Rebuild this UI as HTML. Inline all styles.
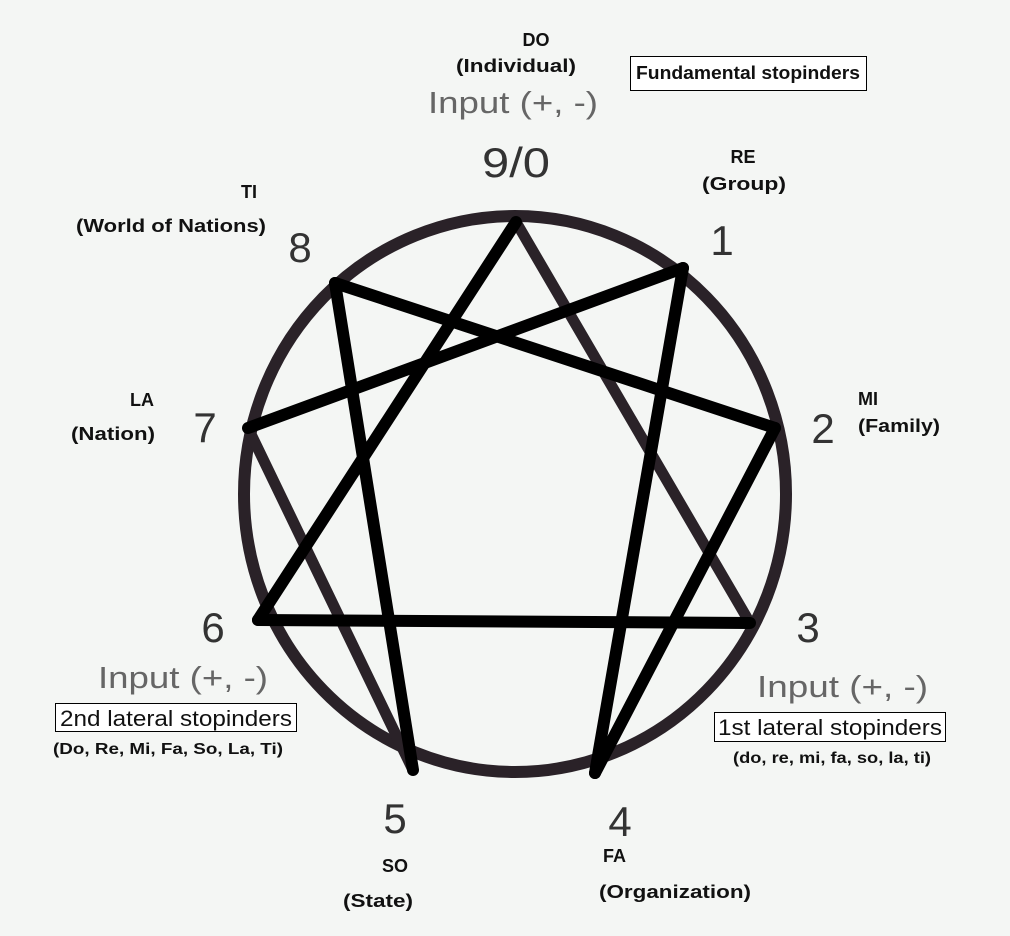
<!DOCTYPE html>
<html><head><meta charset="utf-8"><style>
html,body{margin:0;padding:0;background:#f4f6f4;}
svg{display:block;}
.b{font-family:"Liberation Sans",sans-serif;font-weight:bold;font-size:18px;fill:#111;}
.n{font-family:"Liberation Sans",sans-serif;font-size:42px;fill:#333;}
.i{font-family:"Liberation Sans",sans-serif;font-size:31px;fill:#666;}
.l{font-family:"Liberation Sans",sans-serif;font-size:22px;fill:#111;}
</style></head><body>
<svg width="1010" height="936" viewBox="0 0 1010 936">
<rect width="1010" height="936" fill="#f4f6f4"/>
<ellipse cx="515" cy="494" rx="271" ry="278" fill="none" stroke="#2a2228" stroke-width="12"/>
<g stroke-linecap="round" fill="none">
<line x1="516" y1="222" x2="750" y2="623" stroke="#2a2228" stroke-width="11"/>
<line x1="248" y1="428" x2="413" y2="770" stroke="#2a2228" stroke-width="11"/>
<line x1="516" y1="222" x2="258" y2="620" stroke="#000" stroke-width="12"/>
<line x1="258" y1="620" x2="750" y2="623" stroke="#000" stroke-width="12"/>
<line x1="683" y1="268" x2="595" y2="773" stroke="#000" stroke-width="12"/>
<line x1="595" y1="773" x2="775" y2="428" stroke="#000" stroke-width="12"/>
<line x1="775" y1="428" x2="335" y2="283" stroke="#000" stroke-width="12"/>
<line x1="335" y1="283" x2="413" y2="770" stroke="#000" stroke-width="12"/>
<line x1="248" y1="428" x2="683" y2="268" stroke="#000" stroke-width="12"/>
</g>
<text class="b" x="536" y="46" text-anchor="middle">DO</text>
<text class="b" x="516" y="72" text-anchor="middle" textLength="120" lengthAdjust="spacingAndGlyphs">(Individual)</text>
<text class="i" x="428" y="113" textLength="170" lengthAdjust="spacingAndGlyphs">Input (+, -)</text>
<text class="n" x="516" y="177" text-anchor="middle" textLength="68" lengthAdjust="spacingAndGlyphs">9/0</text>
<rect x="630.5" y="56.5" width="236" height="34" fill="#fff" stroke="#000" stroke-width="1"/>
<text class="b" x="636" y="79" textLength="224" lengthAdjust="spacingAndGlyphs">Fundamental stopinders</text>
<text class="b" x="743" y="163" text-anchor="middle">RE</text>
<text class="b" x="744" y="190" text-anchor="middle" textLength="84" lengthAdjust="spacingAndGlyphs">(Group)</text>
<text class="n" x="722" y="255" text-anchor="middle">1</text>
<text class="b" x="257" y="198" text-anchor="end">TI</text>
<text class="b" x="266" y="232" text-anchor="end" textLength="190" lengthAdjust="spacingAndGlyphs">(World of Nations)</text>
<text class="n" x="300" y="262" text-anchor="middle">8</text>
<text class="b" x="858" y="405">MI</text>
<text class="b" x="858" y="432" textLength="82" lengthAdjust="spacingAndGlyphs">(Family)</text>
<text class="n" x="823" y="443" text-anchor="middle">2</text>
<text class="b" x="154" y="406" text-anchor="end">LA</text>
<text class="b" x="155" y="440" text-anchor="end" textLength="84" lengthAdjust="spacingAndGlyphs">(Nation)</text>
<text class="n" x="205" y="442" text-anchor="middle">7</text>
<text class="n" x="213" y="642" text-anchor="middle">6</text>
<text class="n" x="808" y="642" text-anchor="middle">3</text>
<text class="i" x="98" y="688" textLength="170" lengthAdjust="spacingAndGlyphs">Input (+, -)</text>
<text class="i" x="757" y="697" textLength="171" lengthAdjust="spacingAndGlyphs">Input (+, -)</text>
<rect x="55.5" y="703.5" width="241" height="28" fill="#fff" stroke="#000" stroke-width="1"/>
<text class="l" x="60" y="726" textLength="232" lengthAdjust="spacingAndGlyphs">2nd lateral stopinders</text>
<text class="b" x="168" y="754" text-anchor="middle" textLength="230" lengthAdjust="spacingAndGlyphs" style="font-size:16px">(Do, Re, Mi, Fa, So, La, Ti)</text>
<rect x="714.5" y="712.5" width="231" height="29" fill="#fff" stroke="#000" stroke-width="1"/>
<text class="l" x="718" y="735" textLength="224" lengthAdjust="spacingAndGlyphs">1st lateral stopinders</text>
<text class="b" x="832" y="763" text-anchor="middle" textLength="198" lengthAdjust="spacingAndGlyphs" style="font-size:16px">(do, re, mi, fa, so, la, ti)</text>
<text class="n" x="395" y="833" text-anchor="middle">5</text>
<text class="b" x="395" y="872" text-anchor="middle">SO</text>
<text class="b" x="378" y="907" text-anchor="middle" textLength="70" lengthAdjust="spacingAndGlyphs">(State)</text>
<text class="n" x="620" y="836" text-anchor="middle">4</text>
<text class="b" x="603" y="862">FA</text>
<text class="b" x="675" y="898" text-anchor="middle" textLength="152" lengthAdjust="spacingAndGlyphs">(Organization)</text>
</svg>
</body></html>
